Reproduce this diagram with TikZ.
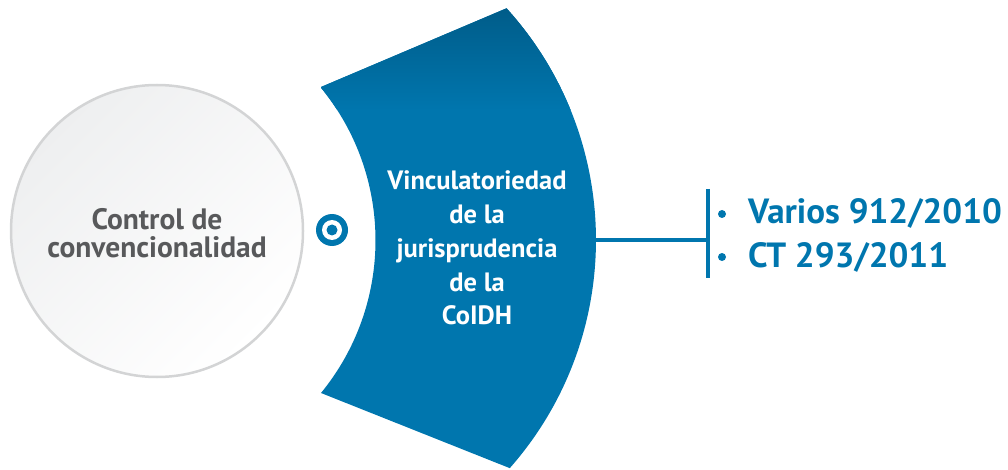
\documentclass[tikz,border=0pt]{standalone}
\usepackage{fontspec}
\setmainfont{PT Sans}
\usetikzlibrary{calc}
\definecolor{bmain}{HTML}{0076AE}
\definecolor{bdark}{HTML}{005A86}
\definecolor{gtext}{HTML}{58595B}
\definecolor{cedge}{HTML}{D3D4D5}
\definecolor{cfill}{HTML}{EEEFF0}
\tikzset{
  circtext/.style={font=\bfseries\fontsize{29.5}{28}\selectfont, text=gtext, align=center},
  bandtext/.style={font=\bfseries\fontsize{26.5}{33.8}\selectfont, text=white, align=center},
  itemtext/.style={font=\bfseries\fontsize{35}{40}\selectfont, text=bmain, anchor=base west, inner sep=0pt},
  bulletdot/.style={circle, fill=bmain, minimum size=8pt, inner sep=0pt},
  link/.style={draw=bmain, line width=3.5pt},
}
\begin{document}
\begin{tikzpicture}[x=1pt,y=-1pt]
\useasboundingbox (0,0) rectangle (1008,470);
% grey circle
\shade[top color=cfill, bottom color=white, shading angle=45] (157,231) circle[radius=146];
\draw[cedge, line width=2.5pt] (157,231) circle[radius=146];
\node[circtext] (ctrl) at (157,233) {Control de\\convencionalidad};
% target icon
\fill[bmain] (332,230) circle[radius=16];
\fill[white] (332,230) circle[radius=10];
\fill[bmain] (332,230) circle[radius=5.5];
% blue band
\begin{scope}
\clip
  (321,87) -- ($(251,240)+(-42.2:345)$) arc[start angle=-42.2, end angle=41.4, radius=345]
  -- (321,393) arc[start angle=39.3, end angle=-39.3, radius=241] -- cycle;
\fill[bmain] (300,0) rectangle (620,470);
\shade[top color=bdark, bottom color=bmain] (300,0) rectangle (620,110);
\end{scope}
\coordinate (bandout) at (596,240);
\node[bandtext] (band) at (477,248) {Vinculatoriedad\\de la\\jurisprudencia\\de la\\CoIDH};
% bracket
\coordinate (brk) at (708,240);
\coordinate (brktop) at (708,189);
\coordinate (brkbot) at (708,278);
\draw[link] (bandout) -- (brk);
\draw[link, line width=4pt] (brktop) -- (brkbot);
\node[bulletdot] (b1) at (722,214) {};
\node[bulletdot] (b2) at (722,257) {};
\node[itemtext] (i1) at (748,223) {Varios 912/2010};
\node[itemtext] (i2) at (748,267) {CT 293/2011};
\end{tikzpicture}
\end{document}
